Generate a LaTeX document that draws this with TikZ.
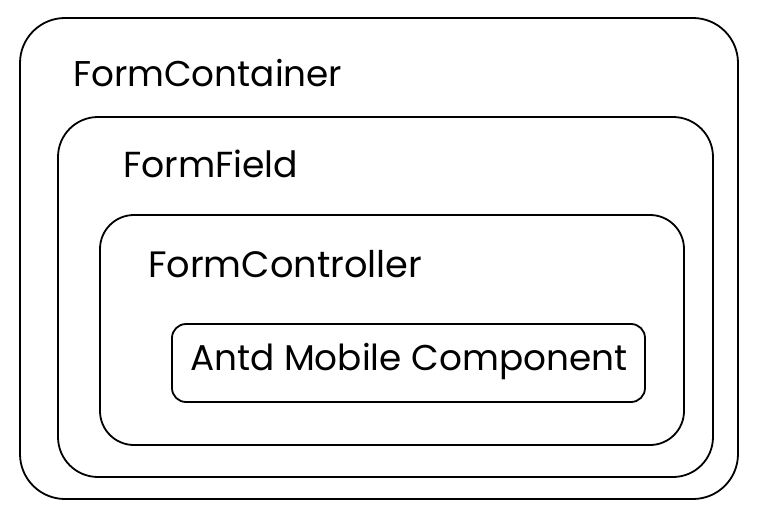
\documentclass[tikz,border=0pt]{standalone}
\usepackage{fontspec}
\setmainfont{Poppins}
\begin{document}
\begin{tikzpicture}[x=1pt,y=-1pt,
  box/.style={draw=black, line width=1.8pt, inner sep=0pt, fill=none},
  lbl/.style={anchor=base west, inner sep=0pt, text=black}]
\useasboundingbox[fill=white] (0,0) rectangle (757,519);
\node[box, rounded corners=45pt, minimum width=718pt, minimum height=481pt] (container) at (379,258.5) {};
\node[box, rounded corners=40pt, minimum width=655pt, minimum height=360pt] (field) at (385.5,297) {};
\node[box, rounded corners=34pt, minimum width=584pt, minimum height=230pt] (controller) at (392,330) {};
\node[box, rounded corners=14pt, minimum width=473pt, minimum height=78pt] (antd) at (408.5,363) {};
\node[lbl] (tcontainer) at (73,86) {\resizebox{269pt}{!}{FormContainer}};
\node[lbl] (tfield) at (123,177) {\resizebox{175pt}{!}{FormField}};
\node[lbl] (tcontroller) at (148,277) {\resizebox{274pt}{!}{FormController}};
\node[lbl] (tantd) at (190,370) {\resizebox{437pt}{!}{Antd Mobile Component}};
\end{tikzpicture}
\end{document}
